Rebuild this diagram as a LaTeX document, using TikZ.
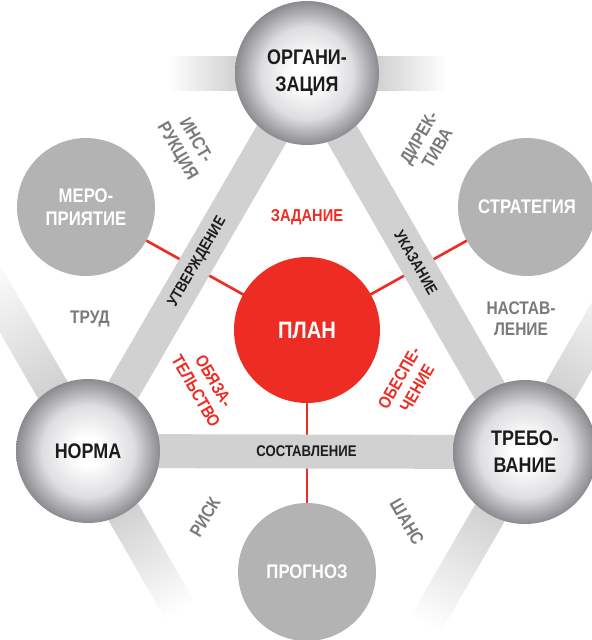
\documentclass[tikz,border=0pt]{standalone}
\usepackage{fontspec}
\setmainfont[FakeStretch=0.85]{Liberation Sans}
\definecolor{planRed}{RGB}{237, 45, 36}
\definecolor{barGray}{RGB}{209, 209, 209}
\definecolor{discGray}{RGB}{179, 179, 179}
\definecolor{ballEdge}{RGB}{138, 138, 143}
\definecolor{ballMid}{RGB}{222, 222, 225}
\definecolor{textGray}{RGB}{122, 122, 122}
\definecolor{textDark}{RGB}{28, 28, 28}
\pgfdeclareradialshading{ballShade}{\pgfpoint{0bp}{0bp}}{color(0bp)=(white); color(5bp)=(white); color(16bp)=(ballMid); color(25bp)=(ballEdge); color(50bp)=(ballEdge)}
\pgfdeclarelayer{redlayer}
\pgfdeclarelayer{barlayer}
\pgfsetlayers{redlayer,barlayer,main}

\begin{document}
\begin{tikzpicture}[x=0.02cm, y=-0.02cm,
    ball/.style={circle, minimum size=2.88cm, inner sep=0pt, shade, shading=ballShade,
        align=center, text=textDark, font=\fontsize{12}{15.3}\selectfont\bfseries},
    disc/.style={circle, minimum size=2.76cm, inner sep=0pt, fill=discGray,
        align=center, text=white, font=\fontsize{11.2}{13.5}\selectfont\bfseries},
    bar/.style={barGray, line width=0.68cm},
    barlabel/.style={text=textDark, inner sep=1pt, font=\fontsize{8.8}{10}\selectfont\bfseries},
    link/.style={planRed, line width=1.5pt},
    redlabel/.style={text=planRed, align=center, font=\fontsize{9.8}{11.8}\selectfont\bfseries},
    graylabel/.style={text=textGray, align=center, font=\fontsize{10.4}{12}\selectfont\bfseries}]
    \useasboundingbox (0,0) rectangle (592,640);

    % Spheres
    \node[ball] (org) at (307,73) {ОРГАНИ-\\ЗАЦИЯ};
    \node[ball] (norma) at (88,451) {НОРМА};
    \node[ball] (treb) at (525,452) {ТРЕБО-\\ВАНИЕ};

    % Outer discs
    \node[disc] (mero) at (86,207) {МЕРО-\\ПРИЯТИЕ};
    \node[disc] (strat) at (527,207) {СТРАТЕГИЯ};
    \node[disc] (prog) at (307,572) {ПРОГНОЗ};

    % Plan
    \node[circle, minimum size=2.92cm, inner sep=0pt, fill=planRed, text=white,
        font=\fontsize{13.5}{16}\selectfont\bfseries] (plan) at (307,330) {ПЛАН};

    % Red links
    \begin{pgfonlayer}{redlayer}
        \foreach \d in {mero, strat, prog}
            \draw[link] (plan.center) -- (\d.center);
    \end{pgfonlayer}

    % Bars
    \begin{pgfonlayer}{barlayer}
        \foreach \n/\a/\l in {org/0/140, org/180/140, norma/120/215, norma/-60/185, treb/60/200, treb/240/200} {
            \begin{scope}[transform canvas={shift={(\n.center)}, rotate=\a}]
                \shade[left color=barGray, right color=white] (70,-17) rectangle (\l,17);
            \end{scope}
        }
        \draw[bar] (norma.center) -- node[barlabel, sloped] (utv) {УТВЕРЖДЕНИЕ} (org.center);
        \draw[bar] (org.center) -- node[barlabel, sloped] (ukaz) {УКАЗАНИЕ} (treb.center);
        \draw[bar] (norma.center) -- node[barlabel] (sost) {СОСТАВЛЕНИЕ} (treb.center);
    \end{pgfonlayer}

    % Red labels
    \node[redlabel] (zad) at (307,217) {ЗАДАНИЕ};
    \node[redlabel, rotate=-60] (obyaz) at (205,386) {ОБЯЗА-\\ТЕЛЬСТВО};
    \node[redlabel, rotate=60] (obesp) at (408,383) {ОБЕСПЕ-\\ЧЕНИЕ};

    % Gray labels
    \node[graylabel, rotate=-60] (instr) at (186,146) {ИНСТ-\\РУКЦИЯ};
    \node[graylabel, rotate=60] (direk) at (428,143) {ДИРЕК-\\ТИВА};
    \node[graylabel] (trud) at (90,319) {ТРУД};
    \node[graylabel] (nastav) at (521,319) {НАСТАВ-\\ЛЕНИЕ};
    \node[graylabel, rotate=60] (risk) at (205,517) {РИСК};
    \node[graylabel, rotate=-60] (shans) at (407,522) {ШАНС};
\end{tikzpicture}
\end{document}
